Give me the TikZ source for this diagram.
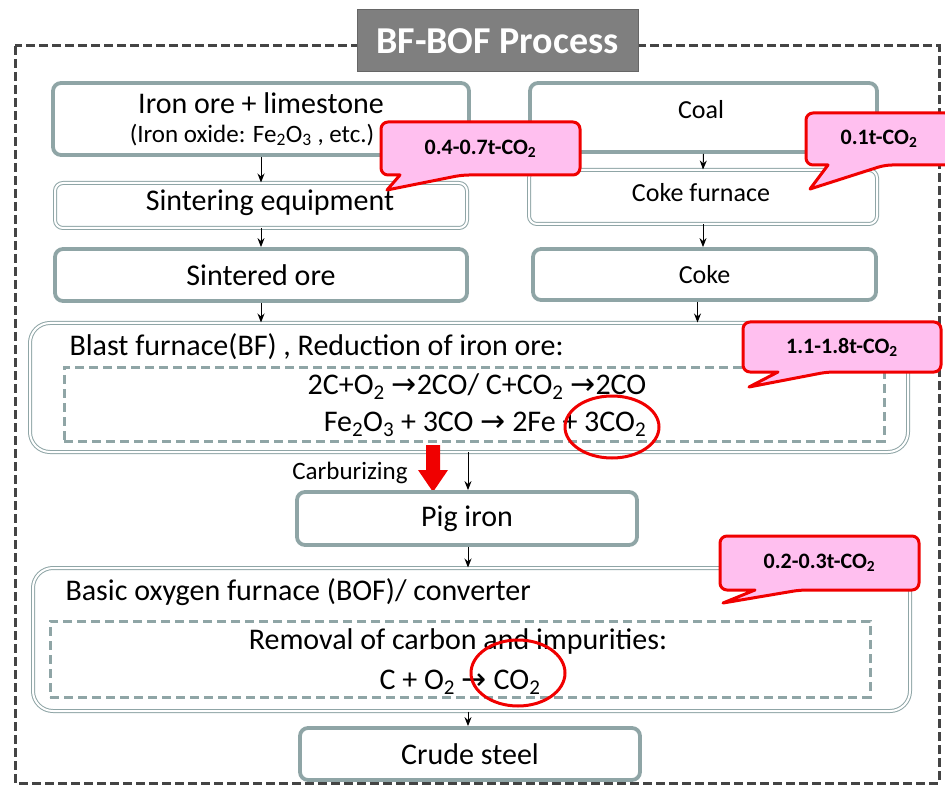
\documentclass[tikz,border=0pt]{standalone}
\usepackage{fontspec}
\setmainfont{Carlito}
\newfontfamily\arrowfont{DejaVu Sans}
\usetikzlibrary{calc,arrows.meta}
\definecolor{boxc}{HTML}{8FA5A6}
\definecolor{outerc}{HTML}{444444}
\definecolor{titlec}{HTML}{7F7F7F}
\definecolor{pinkc}{HTML}{FFBFEF}
\definecolor{redc}{HTML}{F00000}
\newcommand{\ar}{{\arrowfont\fontsize{30}{30}\selectfont →}}
\newcommand{\sub}[1]{\textsubscript{#1}}
\newcommand{\fs}[1]{\fontsize{#1}{#1}\selectfont}
\tikzset{
  thickbox/.style={draw=boxc, line width=3.8pt, rounded corners=8pt, fill=white, inner sep=0pt},
  dblbox/.style={draw=boxc, double=white, double distance=2pt, line width=1pt, rounded corners=8pt, inner sep=0pt},
  dashbox/.style={draw=boxc, line width=3pt, dash pattern=on 9pt off 5pt, inner sep=0pt},
  conn/.style={-{Stealth[length=9pt,width=7pt]}, line width=1pt, black},
  callbox/.style={draw=redc, fill=pinkc, line width=3pt, rounded corners=7pt, line join=round},
  bigtxt/.style={font=\fs{30}},
  midtxt/.style={font=\fs{26}},
}
\newcommand{\callout}[9]{%
  \draw[callbox] (#1,#4) -- (#1,#2) -- (#3,#2) -- (#3,#4) -- (#8,#4) [sharp corners] -- (#5,#6) -- (#7,#4) [rounded corners=7pt] -- cycle;
  \node[font=\bfseries\fs{22}] (#9) at ({(#1+#3)/2},{(#2+#4)/2}) {\csname ctext#9\endcsname};
}
\begin{document}
\begin{tikzpicture}[x=1pt,y=-1pt]
\useasboundingbox (0,0) rectangle (945,786);
% outer dashed frame
\draw[outerc, line width=3pt, dash pattern=on 9pt off 4pt] (15,46) rectangle (939,783);
% title
\node[draw=titlec!80!black, fill=titlec, line width=1pt, minimum width=281pt, minimum height=62pt, inner sep=0pt, text=white, font=\bfseries\fs{38}] (title) at (497.5,41) {BF-BOF Process};
% left column
\node[thickbox, minimum width=416pt, minimum height=72pt] (iron) at (261,119) {};
\node[bigtxt] (irontxt) at (261,103) {Iron ore + limestone};
\node[font=\fs{25}] (irontxt2) at (252,135) {(Iron oxide: Fe\sub{2}O\sub{3} , etc.)};
\node[dblbox, minimum width=412pt, minimum height=45pt] (sinter) at (261,205.5) {};
\node[bigtxt] (sintertxt) at (270,203) {Sintering equipment};
\node[thickbox, minimum width=412pt, minimum height=52pt, bigtxt] (sintered) at (261,275) {Sintered ore};
% right column
\node[thickbox, minimum width=347pt, minimum height=69pt] (coal) at (703.5,117.5) {};
\node[midtxt] (coaltxt) at (701,110) {Coal};
\node[dblbox, minimum width=348pt, minimum height=54pt] (cokef) at (703,197) {};
\node[midtxt] (cokeftxt) at (701,193) {Coke furnace};
\node[thickbox, minimum width=343pt, minimum height=51pt, midtxt] (coke) at (704.5,274.5) {Coke};
% blast furnace
\node[dblbox, rounded corners=20pt, minimum width=878pt, minimum height=129pt] (bf) at (469,387.5) {};
\node[dashbox, minimum width=820pt, minimum height=74pt] (bfin) at (474,404) {};
\node[bigtxt, anchor=west] (bftxt) at (66,347) {Blast furnace(BF) , Reduction of iron ore:};
\node[bigtxt] (eq1) at (477,387) {2C+O\sub{2} \ar2CO/ C+CO\sub{2} \ar2CO};
\node[bigtxt] (eq2) at (485,424) {Fe\sub{2}O\sub{3} + 3CO \ar{} 2Fe + 3CO\sub{2}};
\draw[redc, line width=3pt] (612,427) ellipse [x radius=47pt, y radius=31pt];
% carburizing arrow
\fill[redc] (426,445) -- (440,445) -- (440,470) -- (448,470) -- (433,492) -- (418,470) -- (426,470) -- cycle;
\node[font=\fs{25}] (carb) at (350,473) {Carburizing};
% pig iron
\node[thickbox, minimum width=340pt, minimum height=53pt, bigtxt] (pig) at (467,518.5) {Pig iron};
% BOF
\node[dblbox, rounded corners=20pt, minimum width=877pt, minimum height=143pt] (bof) at (471.5,639.5) {};
\node[dashbox, minimum width=820pt, minimum height=76pt] (bofin) at (460,659) {};
\node[bigtxt, anchor=west] (boftxt) at (62,592) {Basic oxygen furnace (BOF)/ converter};
\node[bigtxt] (bofeq1) at (458,641) {Removal of carbon and impurities:};
\node[bigtxt] (bofeq2) at (460,682) {C + O\sub{2} \ar{} CO\sub{2}};
\draw[redc, line width=3pt] (518,673) ellipse [x radius=47pt, y radius=33pt];
% crude steel
\node[thickbox, minimum width=340pt, minimum height=52pt, bigtxt] (crude) at (470,754) {Crude steel};
% connectors
\draw[conn] (iron.south) -- (sinter.north);
\draw[conn] (sinter.south) -- (sintered.north);
\draw[conn] (sintered.south) -- (sintered.south |- bf.north);
\draw[conn] (coal.south) -- (cokef.north);
\draw[conn] (cokef.south) -- (cokef.south |- coke.north);
\draw[conn] ([xshift=-7pt]coke.south) -- ([xshift=-7pt]coke.south |- bf.north);
\coordinate (bfout) at (468,452);
\draw[conn] (bfout) -- (bfout |- pig.north);
\draw[conn] ([xshift=1pt]pig.south) -- ([xshift=1pt]pig.south |- bof.north);
\draw[conn] ([xshift=-2pt]crude.north |- bof.south) -- ([xshift=-2pt]crude.north);
% callouts
\expandafter\def\csname ctextcA\endcsname{0.4-0.7t-CO\sub{2}}
\expandafter\def\csname ctextcB\endcsname{0.1t-CO\sub{2}}
\expandafter\def\csname ctextcC\endcsname{1.1-1.8t-CO\sub{2}}
\expandafter\def\csname ctextcD\endcsname{0.2-0.3t-CO\sub{2}}
\callout{381}{122}{580}{175}{387}{190}{400}{462}{cA}
\callout{806}{113}{952}{165}{810}{189}{828}{885}{cB}
\callout{743}{322}{941}{372}{749}{387}{778}{827}{cC}
\callout{720}{536}{919}{590}{723}{603}{755}{800}{cD}
\end{tikzpicture}
\end{document}
